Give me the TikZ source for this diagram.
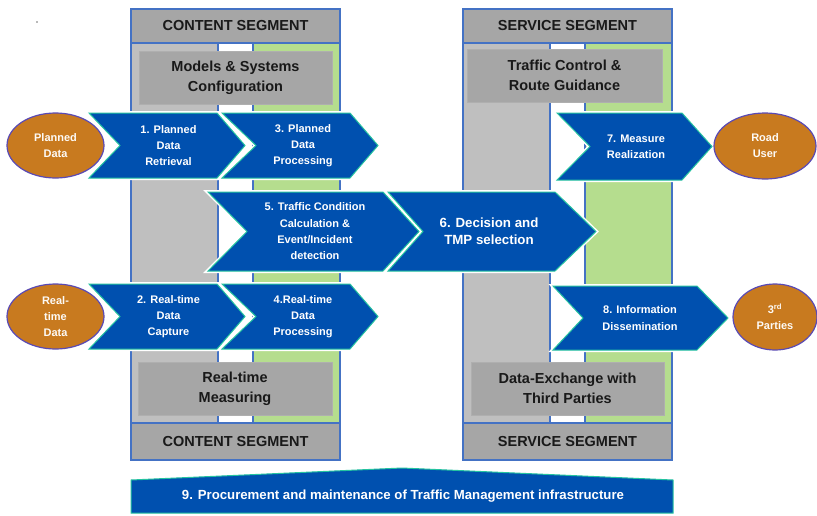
\documentclass[tikz,border=0pt]{standalone}
\usepackage{fontspec}
\setmainfont{Liberation Sans}
\usetikzlibrary{shapes.geometric}
\definecolor{chevblue}{HTML}{0050AF}
\definecolor{chevedge}{HTML}{25C3A0}
\definecolor{hdrgray}{HTML}{A6A6A6}
\definecolor{colgray}{HTML}{BFBFBF}
\definecolor{colgreen}{HTML}{B5DD8E}
\definecolor{segblue}{HTML}{4472C4}
\definecolor{ellfill}{HTML}{C87A1F}
\definecolor{elledge}{HTML}{5A4AB5}
\tikzset{
  colgraybox/.style={fill=colgray,draw=segblue,line width=1.1pt},
  colgreenbox/.style={fill=colgreen,draw=segblue,line width=1.1pt},
  hdrbox/.style={fill=hdrgray,draw=segblue,line width=1.1pt},
  hdrtext/.style={font=\bfseries\fontsize{14.5}{17}\selectfont,text=black!90,inner sep=0pt},
  innerbox/.style={fill=hdrgray,draw=hdrgray!90!white,line width=0.6pt,align=center,
    font=\bfseries\fontsize{14.5}{20}\selectfont,text=black!90,inner sep=0pt},
  chevglow/.style={draw=white,line width=4pt,line join=miter},
  chevbody/.style={fill=chevblue,draw=chevedge,line width=1pt,line join=miter},
  chevtext/.style={text=white,align=center,font=\bfseries\fontsize{11}{16.3}\selectfont,inner sep=0pt},
  bigtext/.style={font=\bfseries\fontsize{13.3}{17}\selectfont},
  ellnode/.style={ellipse,fill=ellfill,draw=elledge,line width=1.2pt,inner sep=0pt,
    text=white!96!ellfill,align=center,font=\bfseries\fontsize{11}{16}\selectfont},
}
% name, left, notch, topright, tip, ytop, ybot, text, extra node style
\newcommand\chevron[9]{%
  \path[chevglow] (#2,#6) -- (#4,#6) -- (#5,{(#6+#7)/2}) -- (#4,#7) -- (#2,#7) -- (#3,{(#6+#7)/2}) -- cycle;
  \path[chevbody] (#2,#6) -- (#4,#6) -- (#5,{(#6+#7)/2}) -- (#4,#7) -- (#2,#7) -- (#3,{(#6+#7)/2}) -- cycle;
  \node[chevtext,#9] (#1) at ({(#3+#4)/2},{(#6+#7)/2}) {#8};
}
% name, x0, x1, x2, x3, title
\newcommand\segment[6]{%
  \path[colgraybox] (#2,43) rectangle (#3,423);
  \path[colgreenbox] (#4,43) rectangle (#5,423);
  \path[hdrbox] (#2,9) rectangle (#5,43);
  \path[hdrbox] (#2,423) rectangle (#5,460);
  \node[hdrtext] (#1top) at ({(#2+#5)/2},26) {#6};
  \node[hdrtext] (#1bot) at ({(#2+#5)/2},441.5) {#6};
}
\begin{document}
\begin{tikzpicture}[x=1pt,y=-1pt]
\useasboundingbox (0,0) rectangle (817,515);
\fill[white] (0,0) rectangle (817,515);
\fill[black!55] (37,22) circle (0.8);

\segment{content}{131}{218}{253}{340}{CONTENT SEGMENT}
\segment{service}{463}{550}{585}{672}{SERVICE SEGMENT}

\node[innerbox,minimum width=193pt,minimum height=53pt] (models) at (235.5,77.5) {Models \& Systems\\Configuration};
\node[innerbox,minimum width=194pt,minimum height=53pt] (rtmeas) at (235,388.5) {Real-time\\Measuring};
\node[innerbox,minimum width=195pt,minimum height=53pt] (tcrg) at (564.5,75.5) {Traffic Control \&\\Route Guidance};
\node[innerbox,minimum width=193pt,minimum height=53pt] (dex) at (567.5,388.5) {Data-Exchange with\\Third Parties};

\chevron{c1}{89}{120}{217}{245}{113}{178}{1. Planned\\Data\\Retrieval}{}
\chevron{c3}{222}{256}{350}{378}{113}{178}{3. Planned\\Data\\Processing}{}
\chevron{c5}{208}{247}{383}{419}{192}{271}{5. Traffic Condition\\Calculation \&\\Event/Incident\\detection}{}
\chevron{c6}{388}{423}{555}{596}{192}{271}{6. Decision and\\TMP selection}{bigtext}
\chevron{c2}{89}{120}{217}{245}{284}{349}{2. Real-time\\Data\\Capture}{}
\chevron{c4}{222}{256}{350}{378}{284}{349}{4.Real-time\\Data\\Processing}{}
\chevron{c7}{557}{590}{682}{712}{113}{180}{7. Measure\\Realization}{}
\chevron{c8}{553}{583}{697}{728}{286}{350}{8. Information\\Dissemination}{}

\node[ellnode,minimum width=97pt,minimum height=65pt] (planned) at (55.5,145.5) {Planned\\Data};
\node[ellnode,minimum width=97pt,minimum height=65pt] (rtdata) at (55.5,316.5) {Real-\\time\\Data};
\node[ellnode,minimum width=102pt,minimum height=66pt] (road) at (765,146) {Road\\User};
\node[ellnode,minimum width=84pt,minimum height=66pt] (third) at (775,317) {3\textsuperscript{rd}\\Parties};

\path[chevbody] (131,480) -- (402,468) -- (673,480) -- (673,513) -- (131,513) -- cycle;
\node[text=white,font=\bfseries\fontsize{13.2}{15}\selectfont,inner sep=0pt] (proc) at (403,496.5)
  {9. Procurement and maintenance of Traffic Management infrastructure};
\end{tikzpicture}
\end{document}
